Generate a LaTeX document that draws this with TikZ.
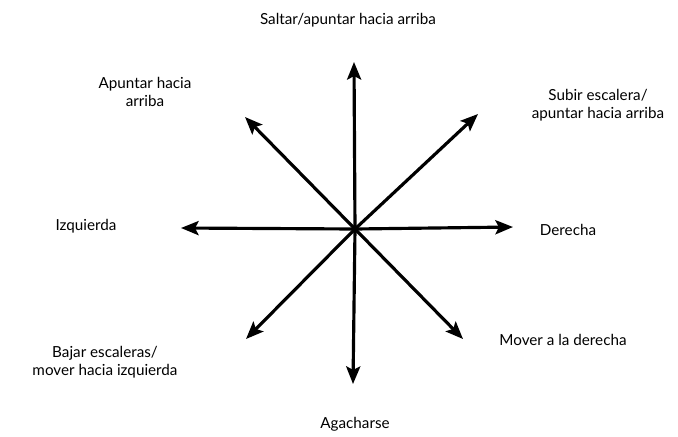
\documentclass[tikz,border=0pt]{standalone}
\usepackage{fontspec}
\setmainfont{Lato}
\usetikzlibrary{arrows.meta}
\tikzset{
  dirarrow/.style={line width=2.7pt, -{Stealth[length=15pt, width=12pt, inset=3pt]}},
  dirlabel/.style={font=\fontsize{13}{15.5}\selectfont, align=center, inner sep=0pt}
}
\begin{document}
\begin{tikzpicture}[x=0.03cm, y=-0.03cm]
    \useasboundingbox (0,0) rectangle (678,436);
    % centre and the eight arrow tips
    \coordinate (c) at (355,229);
    \coordinate (n)  at (354,62);
    \coordinate (s)  at (353,384);
    \coordinate (w)  at (181,228);
    \coordinate (e)  at (513,227);
    \coordinate (nw) at (245,117);
    \coordinate (ne) at (478,114);
    \coordinate (sw) at (246,339);
    \coordinate (se) at (463,339);
    \foreach \d in {n,s,w,e,nw,ne,sw,se}
      \draw[dirarrow] (c) -- (\d);
    % labels
    \node[dirlabel] (lbl-n)  at (348,20)  {Saltar/apuntar hacia arriba};
    \node[dirlabel] (lbl-nw) at (145,92)  {Apuntar hacia\\arriba};
    \node[dirlabel] (lbl-ne) at (598,105) {Subir escalera/\\apuntar hacia arriba};
    \node[dirlabel] (lbl-w)  at (86,226)  {Izquierda};
    \node[dirlabel] (lbl-e)  at (568,230) {Derecha};
    \node[dirlabel] (lbl-sw) at (105,362) {Bajar escaleras/\\mover hacia izquierda};
    \node[dirlabel] (lbl-se) at (563,340) {Mover a la derecha};
    \node[dirlabel] (lbl-s)  at (355,424) {Agacharse};
\end{tikzpicture}
\end{document}
